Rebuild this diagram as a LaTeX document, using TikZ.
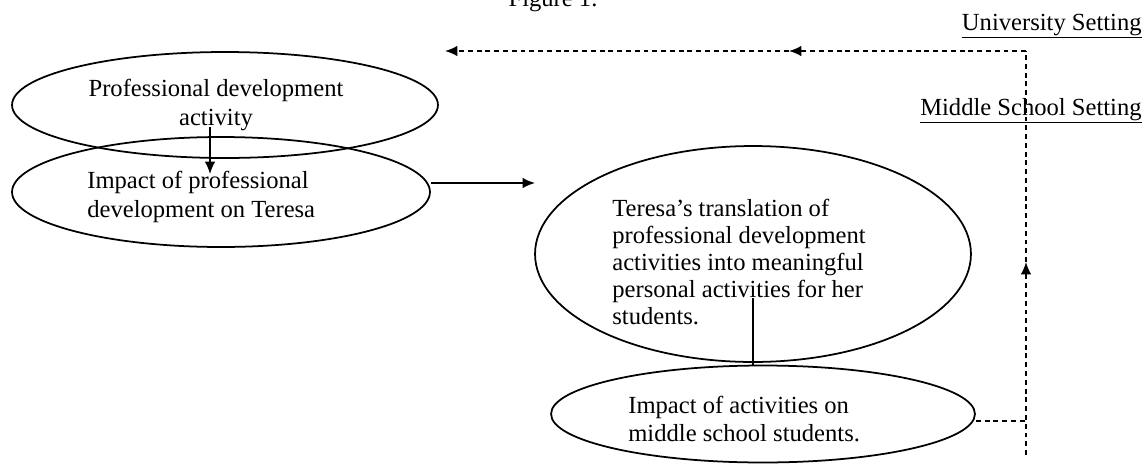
\documentclass[tikz,border=0pt]{standalone}
\usepackage{fontspec}
\setmainfont{Liberation Serif}
\usetikzlibrary{shapes.geometric,arrows.meta,positioning,calc}

\tikzset{
  bubble/.style={draw, ellipse, line width=1pt, inner sep=0pt},
  txt/.style={font=\fontsize{14}{#1}\selectfont, inner sep=0pt},
  txt/.default=15.3,
  arr/.style={-{Latex[length=7pt,width=6pt]}, line width=1pt},
  dsh/.style={line width=1pt, dash pattern=on 2.8pt off 2.2pt}
}

\begin{document}
\begin{tikzpicture}[x=0.02cm, y=-0.02cm]
  \useasboundingbox (0,0) rectangle (1144,467);

  % Title (cut at the top)
  \node[txt, anchor=base] (title) at (553,6) {Figure 1.};

  % Settings
  \node[txt, anchor=base east] (univ) at (1142,30) {\underline{University Setting}};
  \node[txt, anchor=base east] (middle) at (1142,115) {\underline{Middle School Setting}};

  % Ellipses
  \node[bubble, minimum width=8.52cm, minimum height=2.12cm] (pd) at (225,105) {};
  \node[bubble, minimum width=8.36cm, minimum height=2.2cm] (impact) at (221,192) {};
  \node[bubble, minimum width=8.72cm, minimum height=4.32cm] (transl) at (753,254) {};
  \node[bubble, minimum width=8.48cm, minimum height=1.94cm] (school) at (763,414) {};

  % Texts
  \node[txt=17, align=center] (pdtext) at (216,105) {Professional development\\activity};
  \node[txt=17, align=left, anchor=west] (impacttext) at (87,197) {Impact of professional\\development on Teresa};
  \node[txt, align=left, anchor=west] (transltext) at (612,262) {Teresa's translation of\\professional development\\activities into meaningful\\personal activities for her\\students.};
  \node[txt=16, align=left, anchor=west] (schooltext) at (628,419) {Impact of activities on\\middle school students.};

  % Solid connectors
  \coordinate (c1) at (210,127);
  \coordinate (c2) at (210,174);
  \draw[arr] (c1) -- (c2);
  \coordinate (c3) at (535,183);
  \draw[arr] (impact.east |- c3) -- (c3);
  \coordinate (c4) at (753,298);
  \draw[line width=1pt] (c4) -- (c4 |- school.north);

  % Dashed feedback
  \coordinate (c5) at (1026,421);
  \coordinate (c6) at (1026,455);
  \coordinate (c7) at (1026,262);
  \coordinate (c8) at (1026,51);
  \coordinate (c9) at (789,51);
  \coordinate (c10) at (445,51);
  \draw[dsh] (school.east |- c5) -- (c5);
  \draw[dsh, arr] (c6) -- (c7);
  \draw[dsh] (c7) -- (c8);
  \draw[dsh, arr] (c8) -- (c9);
  \draw[dsh, arr] (c9) -- (c10);
\end{tikzpicture}
\end{document}
